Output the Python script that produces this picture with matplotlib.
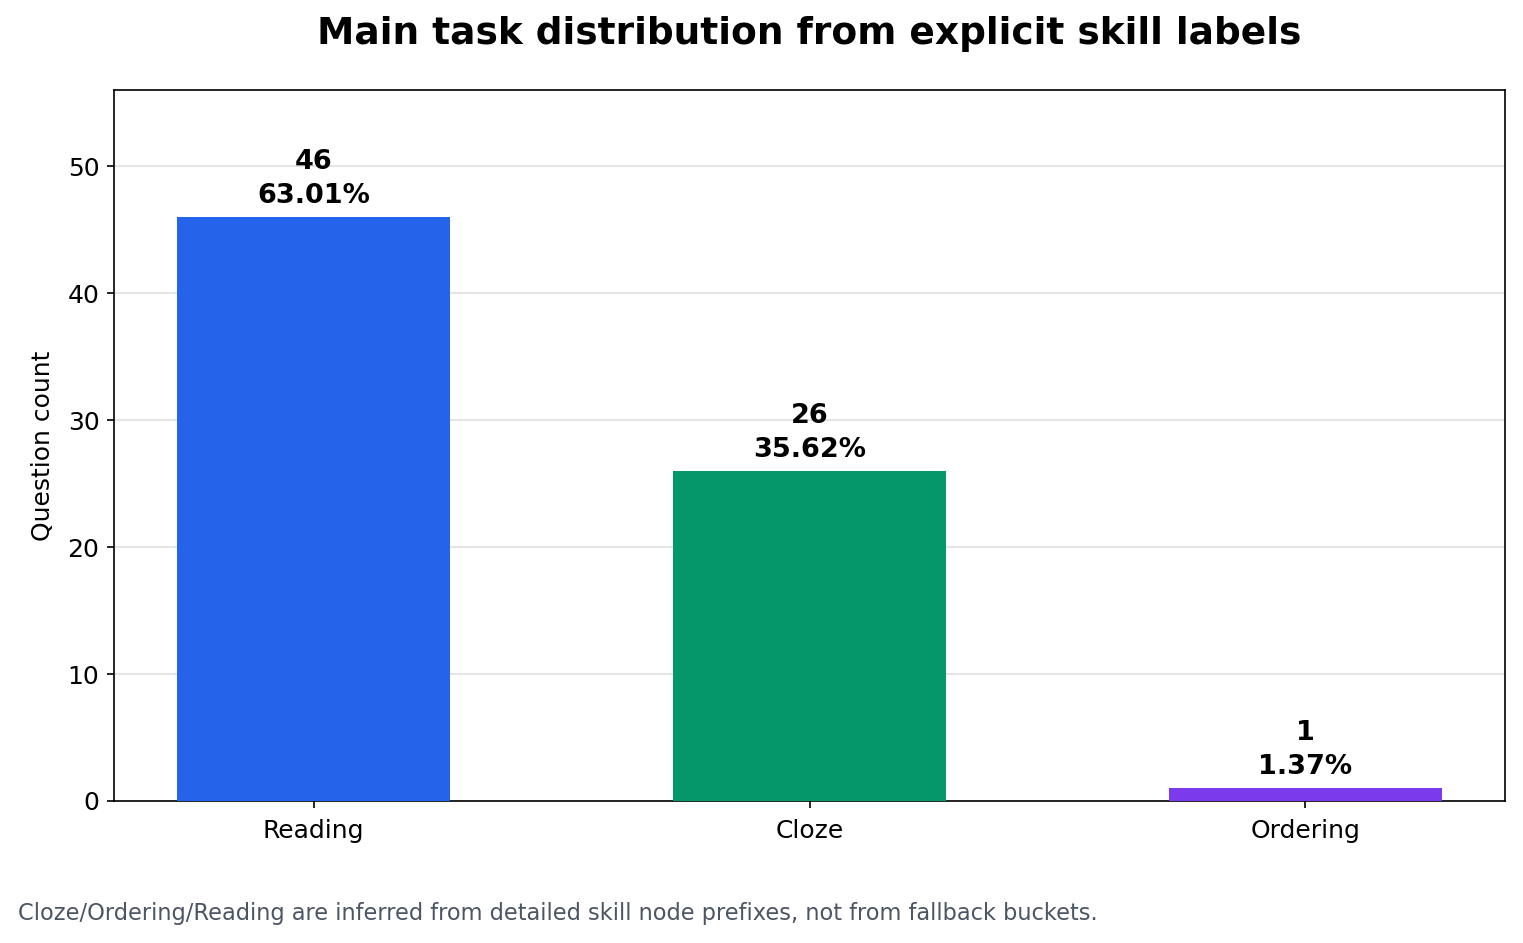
import matplotlib
matplotlib.use("Agg")
import matplotlib.pyplot as plt

categories = ["Reading", "Cloze", "Ordering"]
counts = [46, 26, 1]
percents = ["63.01%", "35.62%", "1.37%"]
colors = ["#2563eb", "#059669", "#7c3aed"]

fig = plt.figure(figsize=(1523/150, 943/150), dpi=150)
ax = fig.add_axes([114/1523, 1-801/943, (1505-114)/1523, (801-90)/943])

x = list(range(len(categories)))
bars = ax.bar(x, counts, width=0.55, color=colors, zorder=3)
ax.set_xticks(x)
ax.set_xticklabels(categories, fontsize=12)
ax.tick_params(axis="y", labelsize=12)
ax.tick_params(axis="x", pad=5)
ax.set_ylim(0, 56)
ax.set_ylabel("Question count", fontsize=12, labelpad=6)
ax.grid(axis="y", color="#e5e5e5", linewidth=1, zorder=0)
ax.set_axisbelow(True)

for xi, c, p in zip(x, counts, percents):
    ax.annotate(f"{c}\n{p}", (xi, c), xytext=(0, 4), textcoords="offset points",
                ha="center", va="bottom", fontsize=13, fontweight="bold",
                linespacing=1.4)

ax.set_title("Main task distribution from explicit skill labels",
             fontsize=18, fontweight="bold", pad=22)
fig.text(18/1523, 1-913/943,
         "Cloze/Ordering/Reading are inferred from detailed skill node prefixes, not from fallback buckets.",
         ha="left", va="center", fontsize=10.8, color="#4b5563")

fig.savefig("out.png", dpi=150)
